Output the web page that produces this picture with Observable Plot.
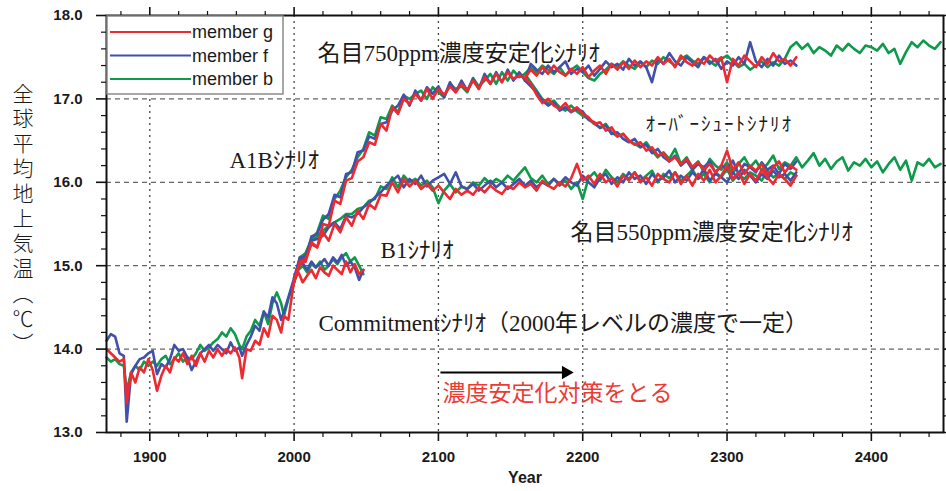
<!DOCTYPE html>
<html><head><meta charset="utf-8">
<script src="https://cdn.jsdelivr.net/npm/d3@7"></script>
<script src="https://cdn.jsdelivr.net/npm/@observablehq/plot@0.6"></script>
<style>body{margin:0;background:#fff}</style>
</head><body><div id="chart"></div>
<script>
// ---- series identity ----
const members = ["member g", "member f", "member b"];
const memberColors = ["#ee2a30", "#4150ab", "#0d9a4a"];

// ---- historical run (irregular years) ----
const histYears = [1870,1873,1876,1879,1882,1884,1887,1890,1893,1896,1899,1902,1905,1908,1911,1914,1917,1920,1923,1926,1929,1932,1935,1938,1941,1944,1947,1950,1953,1956,1959,1962,1964,1967,1970,1973,1976,1979,1982,1985,1988,1991,1993,1996,2000];
const histG = [14.00,13.95,13.90,13.85,13.88,13.35,13.72,13.60,13.78,13.72,13.88,13.75,13.50,13.68,13.80,13.72,13.90,13.85,13.95,13.82,13.92,13.80,13.95,13.85,13.98,13.90,14.00,13.92,14.00,13.95,14.02,13.90,13.65,14.00,13.98,14.10,14.05,14.25,14.15,14.40,14.35,14.20,14.40,14.35,14.82];
const histF = [14.10,14.18,14.15,13.95,13.92,13.13,13.70,13.80,13.88,13.90,13.95,13.98,13.70,13.82,13.78,13.88,14.05,13.98,14.00,13.90,13.75,13.85,13.95,14.00,14.05,13.98,14.05,14.00,13.95,14.08,13.98,14.02,13.92,14.05,14.15,14.28,14.22,14.45,14.38,14.62,14.55,14.35,14.45,14.62,14.85];
const histB = [13.90,13.85,13.88,13.82,13.80,13.50,13.72,13.80,13.75,13.85,13.80,13.85,13.80,13.88,13.92,13.82,13.88,13.95,13.85,13.90,13.88,13.95,14.05,13.98,14.02,14.08,14.12,14.20,14.15,14.25,14.18,14.05,14.00,14.15,14.22,14.35,14.28,14.45,14.30,14.55,14.68,14.55,14.40,14.60,14.80];

// ---- A1B 2000-2160 (every 4 years) ----
const a1bStart = 2000, a1bStep = 4;
const a1bG = [14.82,15.02,15.05,15.28,15.22,15.50,15.48,15.78,15.74,16.02,16.05,16.25,16.30,16.48,16.45,16.70,16.62,16.90,16.82,17.00,16.94,17.06,16.98,17.12,17.00,17.12,17.05,17.15,17.08,17.18,17.10,17.22,17.12,17.26,17.18,17.30,17.20,17.32,17.24,17.28,17.25];
const a1bF = [14.85,15.10,15.08,15.35,15.38,15.55,15.62,15.85,15.82,16.10,16.12,16.36,16.38,16.55,16.52,16.70,16.72,16.86,16.92,17.05,16.92,17.10,16.98,17.14,17.06,17.15,17.02,17.20,17.08,17.22,17.10,17.24,17.12,17.30,17.18,17.32,17.20,17.35,17.22,17.32,17.22];
const a1bB = [14.80,15.06,15.15,15.32,15.40,15.60,15.56,15.80,15.90,16.06,16.15,16.30,16.40,16.60,16.56,16.78,16.76,16.92,16.84,17.04,17.00,17.06,17.10,17.00,17.14,17.08,17.02,17.18,17.12,17.15,17.08,17.25,17.15,17.22,17.30,17.18,17.32,17.22,17.34,17.26,17.30];

// ---- nominal 750 ppm stabilisation, from 2160 (every 4 years) ----
const s750Start = 2160, s750Step = 4;
const s750G = [17.25,17.35,17.28,17.38,17.30,17.40,17.32,17.28,17.36,17.30,17.38,17.26,17.34,17.40,17.30,17.42,17.35,17.44,17.36,17.46,17.38,17.45,17.40,17.50,17.42,17.48,17.38,17.52,17.44,17.40,17.48,17.42,17.52,17.45,17.50,17.20,17.48,17.40,17.52,17.45,17.38,17.50,17.42,17.55,17.45,17.48,17.40,17.50];
const s750F = [17.22,17.42,17.35,17.30,17.40,17.32,17.38,17.45,17.30,17.36,17.32,17.40,17.28,17.36,17.45,17.38,17.42,17.35,17.48,17.40,17.45,17.38,17.20,17.48,17.42,17.55,17.45,17.40,17.50,17.44,17.38,17.50,17.42,17.48,17.36,17.45,17.40,17.50,17.42,17.68,17.45,17.38,17.48,17.40,17.52,17.42,17.46,17.40];
const s750B = [17.30,17.38,17.32,17.40,17.35,17.30,17.38,17.28,17.35,17.40,17.32,17.25,17.22,17.30,17.35,17.42,17.38,17.45,17.40,17.36,17.44,17.38,17.46,17.42,17.50,17.45,17.40,17.48,17.52,17.46,17.42,17.50,17.45,17.40,17.48,17.52,17.45,17.38,17.42,17.35,17.40,17.45,17.38,17.44,17.40,17.48,17.62,17.68,17.60,17.66,17.55,17.62,17.58,17.52,17.64,17.58,17.66,17.60,17.55,17.64,17.62,17.58,17.66,17.55,17.60,17.42,17.56,17.68,17.62,17.70,17.64,17.60,17.68];

// ---- overshoot scenario, from 2160 (every 4 years) ----
const overStart = 2160, overStep = 4;
const overG = [17.25,17.18,17.05,16.95,17.00,16.92,16.88,16.95,16.85,16.90,16.82,16.78,16.70,16.72,16.62,16.66,16.55,16.58,16.50,16.45,16.48,16.38,16.42,16.32,16.35,16.25,16.30,16.22,16.28,16.18,16.24,16.15,16.22,16.12,16.20,16.38,16.15,16.24,16.10,16.20,16.14,16.22,16.08,16.18,16.25,16.12,16.20,16.15];
const overF = [17.22,17.15,17.08,16.98,16.92,16.96,16.86,16.90,16.84,16.88,16.85,16.75,16.72,16.65,16.68,16.58,16.60,16.52,16.48,16.52,16.42,16.45,16.35,16.40,16.30,16.25,16.32,16.20,16.26,16.15,16.22,16.18,16.25,16.12,16.20,16.16,16.26,16.10,16.22,16.18,16.12,16.24,16.15,16.20,16.10,16.22,16.16,16.25];
const overB = [17.30,17.20,17.10,17.00,16.95,16.98,16.90,16.86,16.92,16.85,16.80,16.76,16.70,16.66,16.70,16.60,16.55,16.58,16.50,16.46,16.42,16.48,16.38,16.30,16.36,16.28,16.40,16.22,16.30,16.18,16.25,16.12,16.28,16.20,16.15,16.24,16.10,16.22,16.30,16.18,16.26,16.14,16.22,16.32,16.16,16.24,16.20,16.30,16.18,16.26,16.35,16.20,16.28,16.16,16.25,16.30,16.14,16.24,16.20,16.28,16.18,16.25,16.12,16.22,16.30,16.15,16.26,16.02,16.24,16.20,16.28,16.18,16.22];

// ---- B1 then nominal 550 ppm stabilisation, 2000-2348 (every 4 years) ----
const b1Start = 2000, b1Step = 4;
const b1G = [14.82,15.05,15.08,15.26,15.22,15.40,15.30,15.50,15.40,15.58,15.48,15.66,15.56,15.74,15.68,15.85,15.84,16.00,15.88,16.04,15.95,16.02,15.92,15.98,15.90,15.96,15.88,15.80,15.92,15.85,15.90,15.85,15.94,15.88,15.96,15.90,15.86,15.95,15.92,16.00,15.94,15.98,15.90,16.02,15.96,15.92,16.00,15.95,16.05,16.22,16.02,16.08,15.98,16.10,16.00,16.05,15.95,16.08,16.02,16.12,16.00,16.06,15.96,16.10,16.04,16.00,16.12,15.98,16.08,15.96,16.10,16.02,16.15,16.00,16.08,16.20,16.04,16.12,15.98,16.10,16.02,16.15,16.06,15.98,16.10,16.04,15.96,16.08];
const b1F = [14.85,15.08,15.12,15.30,15.32,15.36,15.46,15.52,15.44,15.60,15.58,15.62,15.70,15.75,15.82,15.88,15.96,16.02,16.08,15.94,16.04,15.98,16.08,15.95,16.02,16.06,16.10,15.98,16.12,15.95,15.92,15.98,15.90,15.96,16.02,15.94,16.00,15.92,15.98,16.04,15.96,16.02,15.94,16.00,15.96,16.04,15.98,16.06,16.00,15.96,16.08,16.00,15.94,16.05,16.10,15.98,16.06,16.00,16.12,16.04,16.08,15.98,16.10,16.02,16.06,16.14,16.00,16.08,16.02,16.12,16.05,16.16,16.02,16.10,16.06,16.00,16.12,16.04,16.15,16.08,16.00,16.10,16.04,16.14,16.06,16.10,16.02,16.12];
const b1B = [14.80,15.10,15.15,15.30,15.35,15.42,15.48,15.52,15.56,15.62,15.62,15.68,15.70,15.78,15.80,15.95,15.92,16.06,15.94,16.08,16.00,16.04,15.96,16.02,15.94,15.75,15.90,15.98,15.88,15.95,15.92,16.00,15.96,16.05,15.98,16.04,16.00,16.08,16.02,16.10,16.18,16.05,16.00,16.08,15.98,16.04,15.96,16.02,15.92,16.00,15.80,16.05,16.12,16.02,16.15,16.06,16.00,16.10,16.04,16.12,16.02,16.08,16.14,16.00,16.10,16.05,16.12,16.02,16.08,16.15,16.04,16.10,16.00,16.12,16.06,16.16,16.02,16.10,16.04,16.12,16.08,16.02,16.14,16.06,16.10,16.04,16.12,16.08];

// ---- Commitment (concentrations fixed at 2000), 2000-2048 (every 3 years) ----
const commitStart = 2000, commitStep = 3;
const commitG = [14.82,14.92,14.80,14.88,14.95,14.85,14.98,14.92,14.88,15.00,14.95,14.90,15.05,14.92,15.02,14.90,14.95];
const commitF = [14.85,15.00,15.03,14.95,15.05,14.98,15.02,15.08,15.00,15.10,15.04,15.13,15.00,15.05,14.98,14.83,14.95];
const commitB = [14.80,14.95,15.00,14.92,15.02,14.98,15.05,14.95,15.00,15.08,15.02,15.10,15.15,15.05,15.10,15.00,14.90];

// ---- axis ticks ----
const xTicks = [1900, 2000, 2100, 2200, 2300, 2400];
const yTicks = [13, 14, 15, 16, 17, 18];
const yGrid = [14, 15, 16, 17];

// ---- texts ----
const yTitle = "全球平均地上気温（℃）";
const scenarioLabels = [
  {text: "名目750ppm濃度安定化ｼﾅﾘｵ", year: 2016.2, temp: 17.54},
  {text: "A1Bｼﾅﾘｵ", year: 1955.2, temp: 16.26},
  {text: "B1ｼﾅﾘｵ", year: 2059.9, temp: 15.18},
  {text: "名目550ppm濃度安定化ｼﾅﾘｵ", year: 2191.5, temp: 15.40},
  {text: "Commitmentｼﾅﾘｵ（2000年レベルの濃度で一定）", year: 2016.9, temp: 14.31}
];
const overshootLabel = [{text: "ｵｰﾊﾞｰｼｭｰﾄｼﾅﾘｵ", year: 2243.5, temp: 16.69}];
const policyLabel = [{text: "濃度安定化対策をとる", year: 2102.8, temp: 13.47}];
const policyArrow = [{x1: 2101.4, x2: 2186.5, y: 13.72, tip: 2188.3}];

// ---- build rows ----
const rows = [];
function addSeq(member, scen, start, step, vals) {
  vals.forEach((v, i) => rows.push({member, key: member + "|" + scen, year: start + i * step, temp: v}));
}
function addYears(member, scen, years, vals) {
  vals.forEach((v, i) => rows.push({member, key: member + "|" + scen, year: years[i], temp: v}));
}
const runs = [
  ["member b", histB, a1bB, s750B, overB, b1B, commitB],
  ["member f", histF, a1bF, s750F, overF, b1F, commitF],
  ["member g", histG, a1bG, s750G, overG, b1G, commitG]
];
for (const [m, h, a, s, o, b, c] of runs) {
  addYears(m, "hist", histYears, h);
  addSeq(m, "a1b", a1bStart, a1bStep, a);
  addSeq(m, "s750", s750Start, s750Step, s);
  addSeq(m, "over", overStart, overStep, o);
  addSeq(m, "b1", b1Start, b1Step, b);
  addSeq(m, "commit", commitStart, commitStep, c);
}

const xMinor = d3.range(1880, 2450, 20).filter(d => !xTicks.includes(d));
const yMinor = d3.range(13.2, 18, 0.2).map(d => +d.toFixed(1)).filter(d => !yTicks.includes(d));
const blank = () => "";
const serif = "'Liberation Serif','Noto Sans CJK JP',serif";
const tickFont = {fontSize: 15, fontWeight: "bold", fill: "#1a1a1a"};

const plot = Plot.plot({
  width: 946, height: 491,
  marginLeft: 106, marginRight: 3, marginTop: 15, marginBottom: 59,
  x: {domain: [1870, 2450]},
  y: {domain: [13, 18]},
  color: {domain: members, range: memberColors},
  style: {fontFamily: "'Liberation Sans', Arial, sans-serif", background: "#fff", color: "#1a1a1a", overflow: "visible"},
  marks: [
    Plot.gridX(xTicks, {stroke: "#333", strokeOpacity: 0.9, strokeDasharray: "2,4", strokeWidth: 1.3}),
    Plot.gridY(yGrid, {stroke: "#555", strokeOpacity: 0.9, strokeDasharray: "5,4", strokeWidth: 1.3}),
    Plot.line(rows, {x: "year", y: "temp", z: "key", stroke: "member", strokeWidth: 2.6, strokeLinejoin: "round"}),
    Plot.link(policyArrow, {x1: "x1", x2: "x2", y1: "y", y2: "y", stroke: "#000", strokeWidth: 2}),
    Plot.dot(policyArrow, {x: "tip", y: "y", symbol: "triangle2", r: 6.5, fill: "#000", rotate: 90}),
    Plot.text(scenarioLabels, {x: "year", y: "temp", text: "text", textAnchor: "start", lineAnchor: "middle", fontSize: 23, fontFamily: serif, fill: "#1a1a1a"}),
    Plot.text(overshootLabel, {x: "year", y: "temp", text: "text", textAnchor: "start", lineAnchor: "middle", fontSize: 19, fontFamily: serif, fill: "#1a1a1a"}),
    Plot.text(policyLabel, {x: "year", y: "temp", text: "text", textAnchor: "start", lineAnchor: "middle", fontSize: 23, fontFamily: "'Noto Sans CJK JP',sans-serif", fill: "#ec3b35"}),
    Plot.frame({stroke: "#111", strokeWidth: 2}),
    Plot.axisX(xTicks, {anchor: "bottom", tickSize: 9, tickPadding: 10, tickFormat: d => String(d), label: null, stroke: "#111", strokeWidth: 1.6, ...tickFont}),
    Plot.axisX(xMinor, {anchor: "bottom", tickSize: 5, tickFormat: blank, label: null, stroke: "#111", strokeWidth: 1.2}),
    Plot.axisX(xTicks, {anchor: "top", tickSize: 9, tickFormat: blank, label: null, stroke: "#111", strokeWidth: 1.6}),
    Plot.axisX(xMinor, {anchor: "top", tickSize: 5, tickFormat: blank, label: null, stroke: "#111", strokeWidth: 1.2}),
    Plot.axisY(yTicks, {anchor: "left", tickSize: 10, tickPadding: 14, tickFormat: d3.format(".1f"), label: null, stroke: "#111", strokeWidth: 1.6, ...tickFont}),
    Plot.axisY(yMinor, {anchor: "left", tickSize: 5, tickFormat: blank, label: null, stroke: "#111", strokeWidth: 1.2}),
    Plot.axisY(yTicks, {anchor: "right", tickSize: 9, tickFormat: blank, label: null, stroke: "#111", strokeWidth: 1.6}),
    Plot.axisY(yMinor, {anchor: "right", tickSize: 5, tickFormat: blank, label: null, stroke: "#111", strokeWidth: 1.2}),
    Plot.text(["Year"], {frameAnchor: "bottom", dy: 50, text: d => d, fontSize: 16, fontWeight: "bold", fill: "#1a1a1a"})
  ]
});

const svg = d3.select(plot);
// letter spacing for the overshoot label
svg.selectAll("text").filter(function() { return this.textContent === overshootLabel[0].text; })
  .attr("letter-spacing", 2);

// vertical y-axis title (single text element, set vertically)
svg.append("text")
  .attr("x", 23).attr("y", 83)
  .attr("text-anchor", "start")
  .attr("font-family", "'Noto Sans CJK JP',sans-serif")
  .attr("font-size", 21).attr("font-weight", 300)
  .attr("fill", "#1a1a1a")
  .attr("letter-spacing", 4)
  .style("writing-mode", "vertical-rl")
  .style("text-orientation", "upright")
  .text(yTitle);

// legend box
const lg = svg.append("g").attr("text-anchor", "start");
lg.append("rect").attr("x", 107).attr("y", 16).attr("width", 176).attr("height", 78)
  .attr("fill", "#fff").attr("stroke", "#8a8a8a").attr("stroke-width", 1.5);
members.forEach((m, i) => {
  const y = 32 + i * 23.5;
  lg.append("line").attr("x1", 110).attr("x2", 191).attr("y1", y).attr("y2", y)
    .attr("stroke", memberColors[i]).attr("stroke-width", 2.2);
  lg.append("text").attr("x", 192).attr("y", y).attr("dy", "0.35em")
    .attr("font-family", "'Liberation Sans', Arial, sans-serif").attr("font-size", 18)
    .attr("fill", "#1a1a1a").text(m);
});

document.getElementById("chart").appendChild(plot);
</script>
</body></html>
